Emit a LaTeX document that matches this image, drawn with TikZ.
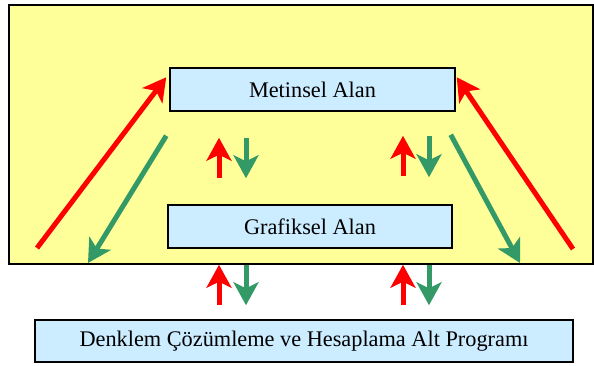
\documentclass[tikz,border=0pt]{standalone}
\usepackage{fontspec}
\setmainfont{Liberation Serif}
\usetikzlibrary{arrows.meta,calc}
\definecolor{panelyellow}{HTML}{FFFF99}
\definecolor{boxblue}{HTML}{CCECFF}
\definecolor{arrowred}{HTML}{FF0000}
\definecolor{arrowgreen}{HTML}{339966}
\tikzset{
  area/.style={draw=black, line width=1.5pt, fill=boxblue, rectangle, inner sep=0pt,
    font=\fontsize{22.3}{26}\selectfont},
  flow/.style={line width=5pt, -{Stealth[length=23pt, width=25pt, inset=6pt]}},
  upflow/.style={flow, arrowred},
  downflow/.style={flow, arrowgreen},
}
\begin{document}
\begin{tikzpicture}[x=1pt, y=-1pt]
  \useasboundingbox (0,0) rectangle (594,365);
  % yellow panel holding the two editing areas
  \draw[line width=1.3pt, fill=panelyellow] (9,5) rectangle (593,264);

  \node[area, minimum width=285pt, minimum height=43pt] (met) at (312.5,89.5) {Metinsel Alan};
  \node[area, minimum width=284pt, minimum height=43pt] (graf) at (310,226.5) {Grafiksel Alan};
  \node[area, minimum width=538pt, minimum height=42pt] (solver) at (304,341) {Denklem Çözümleme ve Hesaplama Alt Programı};

  % x positions of the vertical arrow pairs
  \coordinate (xa) at (219,0);
  \coordinate (xb) at (246,0);
  \coordinate (xc) at (403,0);
  \coordinate (xd) at (429,0);

  % between the text area and the graphic area
  \draw[upflow, shorten <=26pt, shorten >=26pt] (graf.north -| xa) -- (met.south -| xa);
  \draw[downflow, shorten <=26pt, shorten >=26pt] (met.south -| xb) -- (graf.north -| xb);
  \draw[upflow, shorten <=28pt, shorten >=24pt] (graf.north -| xc) -- (met.south -| xc);
  \draw[downflow, shorten <=24pt, shorten >=27pt] (met.south -| xd) -- (graf.north -| xd);

  % between the graphic area and the solver
  \draw[upflow, shorten <=14pt, shorten >=16pt] (solver.north -| xa) -- (graf.south -| xa);
  \draw[downflow, shorten <=16pt, shorten >=14pt] (graf.south -| xb) -- (solver.north -| xb);
  \draw[upflow, shorten <=14pt, shorten >=16pt] (solver.north -| xc) -- (graf.south -| xc);
  \draw[downflow, shorten <=16pt, shorten >=14pt] (graf.south -| xd) -- (solver.north -| xd);

  % long diagonal links between the text area and the solver side
  \coordinate (lredtail) at (37,248);
  \coordinate (lgreentip) at (88,263);
  \coordinate (rgreentip) at (520,263);
  \coordinate (rredtail) at (573,249);
  \draw[upflow] (lredtail) -- ($(met.north west)+(-3,10)$);
  \draw[downflow] ($(met.south west)+(-3,24)$) -- (lgreentip);
  \draw[downflow] ($(met.south east)+(-5,23)$) -- (rgreentip);
  \draw[upflow] (rredtail) -- ($(met.north east)+(1,10)$);
\end{tikzpicture}
\end{document}
